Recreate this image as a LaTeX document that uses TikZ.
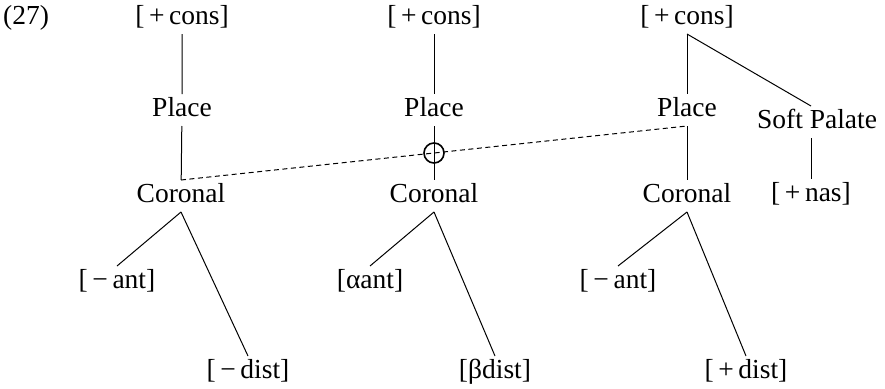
\documentclass[tikz,border=0pt]{standalone}
\usepackage{fontspec}
\setmainfont{Liberation Serif}
\usetikzlibrary{calc}
\begin{document}
\begin{tikzpicture}[x=1pt, y=-1pt, line width=1pt,
    feat/.style={inner sep=3pt, text height=19pt, text depth=6pt, font=\fontsize{27.5}{30}\selectfont}]
      \useasboundingbox (0,0) rectangle (885,388);

      \node[feat] (num) at (26,18) {(27)};

      \node[feat] (cons1) at (182,18) {[\,+\,cons]};
      \node[feat] (place1) at (182,110) {Place};
      \node[feat] (cor1) at (181,196) {Coronal};
      \node[feat] (ant1) at (117,282) {[\,−\,ant]};
      \node[feat] (dist1) at (248,372) {[\,−\,dist]};

      \node[feat] (cons2) at (434,18) {[\,+\,cons]};
      \node[feat] (place2) at (434,110) {Place};
      \node[feat] (cor2) at (434,196) {Coronal};
      \node[feat] (ant2) at (370,282) {[αant]};
      \node[feat] (dist2) at (495,372) {[βdist]};

      \node[feat] (cons3) at (687,18) {[\,+\,cons]};
      \node[feat] (place3) at (687,110) {Place};
      \node[feat] (cor3) at (687,196) {Coronal};
      \node[feat] (ant3) at (618,282) {[\,−\,ant]};
      \node[feat] (dist3) at (746,372) {[\,+\,dist]};
      \node[feat] (sp) at (817,122) {Soft Palate};
      \node[feat] (nas) at (811,195) {[\,+\,nas]};

      \draw (cons1) -- (place1) -- (cor1);
      \draw (cor1.south) -- (ant1.north);
      \draw (cor1.south) -- (dist1.north);

      \draw (cons2) -- (place2) -- (cor2);
      \draw (cor2.south) -- (ant2.north);
      \draw (cor2.south) -- (dist2.north);

      \draw (cons3) -- (place3) -- (cor3);
      \draw (cor3.south) -- (ant3.north);
      \draw (cor3.south) -- (dist3.north);
      \draw (cons3.south) -- (sp.north -| nas);
      \draw (sp.south -| nas) -- (nas);

      \draw[line width=1pt, dash pattern=on 5pt off 3.5pt] (cor1.north) -- (place3.south);
      \node[circle, draw, line width=1.6pt, minimum size=20pt, inner sep=0pt] (link) at ($(cor1.north)!0.5!(place3.south)$) {};
\end{tikzpicture}
\end{document}
